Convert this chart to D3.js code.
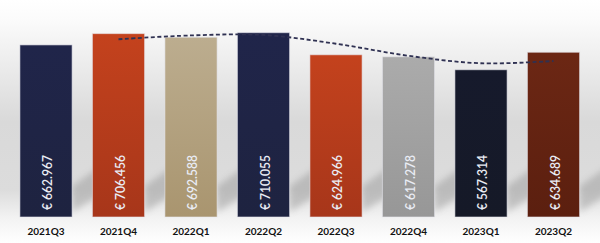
<!DOCTYPE html>
<html><head><meta charset="utf-8">
<script src="https://cdn.jsdelivr.net/npm/d3@7/dist/d3.min.js"></script>
<style>html,body{margin:0;padding:0;background:#fff;}svg{display:block;}</style>
</head><body>
<script>
const categories = ["2021Q3","2021Q4","2022Q1","2022Q2","2022Q3","2022Q4","2023Q1","2023Q2"];
const values = [662967, 706456, 692588, 710055, 624966, 617278, 567314, 634689];
const labels = ["€ 662.967","€ 706.456","€ 692.588","€ 710.055","€ 624.966","€ 617.278","€ 567.314","€ 634.689"];
// moving-average trend line (period 2), starting at the second category
const trendCats = ["2021Q4","2022Q1","2022Q2","2022Q3","2022Q4","2023Q1","2023Q2"];
const trendValues = [684712, 699522, 701322, 667511, 621122, 592296, 601002];
const barColors = [
  ["#20254a","#1e2340"],["#c4421d","#a7361a"],["#bcad8f","#a9956f"],["#20254a","#1e2340"],
  ["#c4421d","#a7361a"],["#ababab","#979797"],["#161a2c","#151927"],["#6c2714","#5b1f0f"]
];

const W = 600, H = 243;
const svg = d3.select("body").append("svg").attr("width", W).attr("height", H);
const defs = svg.append("defs");

const bg = defs.append("linearGradient").attr("id","bg").attr("x1",0).attr("y1",0).attr("x2",0).attr("y2",1);
[[0,"#ffffff"],[0.08,"#fbfbfb"],[0.5,"#d9d9d9"],[0.78,"#dcdcdc"],[0.9,"#f3f3f3"],[1,"#ffffff"]]
  .forEach(([o,c]) => bg.append("stop").attr("offset",o).attr("stop-color",c));
svg.append("rect").attr("width",W).attr("height",H).attr("fill","url(#bg)");

barColors.forEach((c,i) => {
  const g = defs.append("linearGradient").attr("id","bar"+i).attr("x1",0).attr("y1",0).attr("x2",0).attr("y2",1);
  g.append("stop").attr("offset",0).attr("stop-color",c[0]);
  g.append("stop").attr("offset",1).attr("stop-color",c[1]);
});
defs.append("filter").attr("id","blur").attr("x","-50%").attr("y","-50%").attr("width","200%").attr("height","200%")
  .append("feGaussianBlur").attr("stdDeviation",3);

const x = d3.scaleBand().domain(categories).range([9.75, 589.75]).paddingInner(0.28).paddingOuter(0.14);
const y = d3.scaleLinear().domain([0, 836000]).range([217, 0]);

// shadows
svg.append("g").selectAll("path").data(categories).join("path")
  .attr("d", d => {
    const x1 = x(d) + x.bandwidth();
    return `M${x1},212 L${x1},186 L${x1+26},168 L${x1+26},196 Z`;
  })
  .attr("fill","#8a8a8a").attr("opacity",0.4).attr("filter","url(#blur)");

// bars
svg.append("g").selectAll("rect").data(values).join("rect")
  .attr("x", (d,i) => x(categories[i]))
  .attr("y", d => y(d))
  .attr("width", x.bandwidth())
  .attr("height", d => y(0) - y(d))
  .attr("fill", (d,i) => `url(#bar${i})`)
  .attr("stroke","#e8e8ee").attr("stroke-opacity",0.6).attr("stroke-width",1);

// trend line
const line = d3.line().x((d,i) => x(trendCats[i]) + x.bandwidth()/2).y(d => y(d)).curve(d3.curveCatmullRom.alpha(0.5));
svg.append("path").datum(trendValues).attr("d", line)
  .attr("fill","none").attr("stroke","#2f3152").attr("stroke-width",1.8).attr("stroke-dasharray","4,2.5");

// value labels
svg.append("g").selectAll("text").data(labels).join("text")
  .attr("transform", (d,i) => `translate(${x(categories[i]) + x.bandwidth()/2 + 1.5},210) rotate(-90)`)
  .attr("dy","0.35em")
  .attr("fill","#e9ecf4")
  .attr("textLength", 55).attr("lengthAdjust","spacingAndGlyphs")
  .style("font-family","Lato, 'Open Sans', sans-serif")
  .style("font-size","13.5px").style("font-weight","600")
  .text(d => d);

// category axis labels
svg.append("g").selectAll("text").data(categories).join("text")
  .attr("x", d => x(d) + x.bandwidth()/2)
  .attr("y", 234.5)
  .attr("text-anchor","middle")
  .attr("fill","#111")
  .style("font-family","Lato, 'Open Sans', sans-serif")
  .style("font-size","10px").style("font-weight","bold")
  .text(d => d);
</script>
</body></html>
